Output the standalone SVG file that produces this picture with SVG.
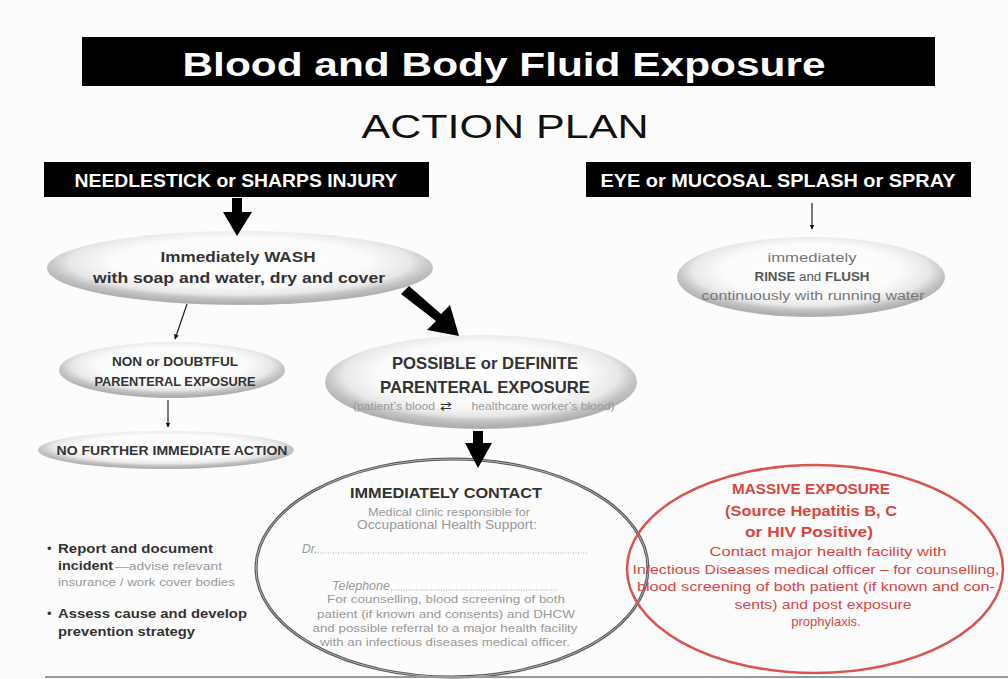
<svg xmlns="http://www.w3.org/2000/svg" width="1008" height="679" viewBox="0 0 1008 679">
<defs>
<radialGradient id="pill" cx="50%" cy="42%" r="55%">
<stop offset="0" stop-color="#ffffff"/>
<stop offset="0.6" stop-color="#fbfbfb"/>
<stop offset="0.8" stop-color="#e8e8e8"/>
<stop offset="0.9" stop-color="#c4c4c4"/>
<stop offset="1" stop-color="#b0b0b0"/>
</radialGradient>
<marker id="thin" viewBox="0 0 10 10" refX="9" refY="5" markerWidth="5" markerHeight="5" orient="auto" markerUnits="userSpaceOnUse">
<path d="M0,0 L10,5 L0,10 z" fill="#111"/>
</marker>
</defs>
<style>
text{font-family:"Liberation Sans",Arial,sans-serif;text-anchor:middle}
.hdr{fill:#fff;font-weight:bold;font-size:19px}
.b{font-weight:bold;fill:#333}
.g{fill:#777}
.lg{fill:#999}
.r{fill:#d8453f}
.pill{fill:url(#pill)}
.thin{stroke:#222;stroke-width:1.2;fill:none;marker-end:url(#thin)}
.thick{fill:#000}
</style>
<rect x="0" y="0" width="1008" height="679" fill="#fcfcfc"/>

<g id="title">
<rect x="82" y="37" width="853" height="49" fill="#000"/>
<text x="504" y="76" fill="#fff" font-size="33" font-weight="bold" textLength="643" lengthAdjust="spacingAndGlyphs">Blood and Body Fluid Exposure</text>
</g>
<g id="subtitle">
<text x="505" y="138" fill="#111" font-size="34" textLength="287" lengthAdjust="spacingAndGlyphs">ACTION  PLAN</text>
</g>

<g id="needlestick">
<rect x="44" y="162" width="385" height="35" fill="#000"/>
<text class="hdr" x="236" y="187" textLength="323" lengthAdjust="spacingAndGlyphs">NEEDLESTICK or SHARPS INJURY</text>
</g>
<g id="eye">
<rect x="586" y="162" width="385" height="35" fill="#000"/>
<text class="hdr" x="778" y="187" textLength="355" lengthAdjust="spacingAndGlyphs">EYE or MUCOSAL SPLASH or SPRAY</text>
</g>

<g id="wash">
<ellipse class="pill" cx="240" cy="268" rx="193" ry="37"/>
<text class="b" x="238" y="262" font-size="14.5" textLength="155" lengthAdjust="spacingAndGlyphs">Immediately WASH</text>
<text class="b" x="239" y="283" font-size="14.5" textLength="292" lengthAdjust="spacingAndGlyphs">with soap and water, dry and cover</text>
</g>

<g id="rinse">
<ellipse class="pill" cx="811" cy="277" rx="134" ry="40"/>
<text class="g" x="812" y="262" font-size="12.5" textLength="89" lengthAdjust="spacingAndGlyphs">immediately</text>
<text x="812" y="281" font-size="12.5" fill="#555" textLength="115" lengthAdjust="spacingAndGlyphs"><tspan font-weight="bold">RINSE</tspan> and <tspan font-weight="bold">FLUSH</tspan></text>
<text class="g" x="813" y="300" font-size="12.5" textLength="223" lengthAdjust="spacingAndGlyphs">continuously with running water</text>
</g>

<g id="nonexposure">
<ellipse class="pill" cx="172" cy="370" rx="113" ry="28"/>
<text class="b" x="175" y="366" font-size="12.5" textLength="126" lengthAdjust="spacingAndGlyphs">NON or DOUBTFUL</text>
<text class="b" x="175" y="386" font-size="12.5" textLength="161" lengthAdjust="spacingAndGlyphs">PARENTERAL EXPOSURE</text>
</g>

<g id="nofurther">
<ellipse class="pill" cx="166" cy="450" rx="128" ry="19"/>
<text class="b" x="172" y="455" font-size="13" textLength="231" lengthAdjust="spacingAndGlyphs">NO FURTHER IMMEDIATE ACTION</text>
</g>

<g id="possible">
<ellipse class="pill" cx="481" cy="382" rx="156" ry="47"/>
<text class="b" x="485" y="369" font-size="17" textLength="186" lengthAdjust="spacingAndGlyphs">POSSIBLE or DEFINITE</text>
<text class="b" x="485" y="393" font-size="17" textLength="210" lengthAdjust="spacingAndGlyphs">PARENTERAL EXPOSURE</text>
<text class="lg" x="394" y="410" font-size="10" textLength="82" lengthAdjust="spacingAndGlyphs">(patient’s blood</text>
<text x="446" y="411" font-size="14" fill="#333" font-family="DejaVu Sans, sans-serif">⇄</text>
<text class="lg" x="543" y="410" font-size="10" textLength="143" lengthAdjust="spacingAndGlyphs">healthcare worker’s blood)</text>
</g>

<g id="contact">
<ellipse cx="452" cy="568" rx="196" ry="109" fill="none" stroke="#555" stroke-width="3"/>
<ellipse cx="452" cy="568" rx="196" ry="109" fill="none" stroke="#ccc" stroke-width="0.8"/>
<text class="b" x="446" y="498" font-size="14.5" fill="#222" textLength="192" lengthAdjust="spacingAndGlyphs">IMMEDIATELY CONTACT</text>
<text class="lg" x="449" y="516" font-size="11" textLength="162" lengthAdjust="spacingAndGlyphs">Medical clinic responsible for</text>
<text class="lg" x="447" y="529" font-size="12" textLength="180" lengthAdjust="spacingAndGlyphs">Occupational Health Support:</text>
<text class="lg" x="302" y="553" font-size="12" font-style="italic" style="text-anchor:start">Dr.</text>
<line x1="318" y1="553" x2="587" y2="553" stroke="#aaa" stroke-width="1" stroke-dasharray="1 1.5"/>
<text class="lg" x="332" y="590" font-size="12" font-style="italic" style="text-anchor:start" textLength="58" lengthAdjust="spacingAndGlyphs">Telephone</text>
<line x1="391" y1="590" x2="557" y2="590" stroke="#aaa" stroke-width="1" stroke-dasharray="1 1.5"/>
<text class="lg" x="446" y="603" font-size="11.5" textLength="238" lengthAdjust="spacingAndGlyphs">For counselling, blood screening of both</text>
<text class="lg" x="446" y="618" font-size="11.5" textLength="258" lengthAdjust="spacingAndGlyphs">patient (if known and consents) and DHCW</text>
<text class="lg" x="445" y="632" font-size="11.5" textLength="265" lengthAdjust="spacingAndGlyphs">and possible referral to a major health facility</text>
<text class="lg" x="445" y="646" font-size="11.5" textLength="250" lengthAdjust="spacingAndGlyphs">with an infectious diseases medical officer.</text>
</g>

<g id="massive">
<ellipse cx="815" cy="569" rx="188" ry="104" fill="none" stroke="#d9534f" stroke-width="2.5"/>
<text class="r" x="811" y="494" font-size="14" font-weight="bold" textLength="158" lengthAdjust="spacingAndGlyphs">MASSIVE EXPOSURE</text>
<text class="r" x="811" y="516" font-size="14" font-weight="bold" textLength="172" lengthAdjust="spacingAndGlyphs">(Source Hepatitis B, C</text>
<text class="r" x="809" y="537" font-size="14" font-weight="bold" textLength="128" lengthAdjust="spacingAndGlyphs">or HIV Positive)</text>
<text class="r" x="828" y="556" font-size="12" textLength="237" lengthAdjust="spacingAndGlyphs">Contact major health facility with</text>
<text class="r" x="816" y="574" font-size="12" textLength="367" lengthAdjust="spacingAndGlyphs">Infectious Diseases medical officer – for counselling,</text>
<text class="r" x="816" y="591" font-size="12" textLength="358" lengthAdjust="spacingAndGlyphs">blood screening of both patient (if known and con-</text>
<text class="r" x="823" y="609" font-size="12" textLength="177" lengthAdjust="spacingAndGlyphs">sents) and post exposure</text>
<text class="r" x="826" y="626" font-size="13">prophylaxis.</text>
</g>

<g id="notes">
<text x="47" y="553" font-size="13" fill="#333" style="text-anchor:start">•</text>
<text class="b" x="58" y="553" font-size="13.5" style="text-anchor:start" textLength="155" lengthAdjust="spacingAndGlyphs">Report and document</text>
<text class="b" x="58" y="570" font-size="13.5" style="text-anchor:start" textLength="55" lengthAdjust="spacingAndGlyphs">incident</text>
<text class="lg" x="115" y="570" font-size="11" style="text-anchor:start" textLength="107" lengthAdjust="spacingAndGlyphs">—advise relevant</text>
<text class="lg" x="58" y="586" font-size="11" style="text-anchor:start" textLength="177" lengthAdjust="spacingAndGlyphs">insurance / work cover bodies</text>
<text x="47" y="618" font-size="13" fill="#333" style="text-anchor:start">•</text>
<text class="b" x="58" y="618" font-size="13.5" style="text-anchor:start" textLength="189" lengthAdjust="spacingAndGlyphs">Assess cause and develop</text>
<text class="b" x="58" y="636" font-size="13.5" style="text-anchor:start" textLength="137" lengthAdjust="spacingAndGlyphs">prevention strategy</text>
</g>

<g id="connectors">
<path class="thick" d="M232,198 L242,198 L242,212 L252,212 L237,236 L223,212 L232,212 z"/>
<path class="thick" d="M401,294 L409,286 L441,314 L450,305 L459,336 L427,330 L436,321 z"/>
<path class="thick" d="M473,431 L483,431 L483,443 L492,443 L478,468 L465,443 L473,443 z"/>
<line class="thin" x1="187" y1="304" x2="175" y2="339"/>
<line class="thin" x1="168" y1="400" x2="168" y2="427"/>
<line class="thin" x1="812" y1="203" x2="812" y2="229"/>
</g>

<line x1="45" y1="677" x2="1008" y2="677" stroke="#999" stroke-width="2"/>
</svg>
